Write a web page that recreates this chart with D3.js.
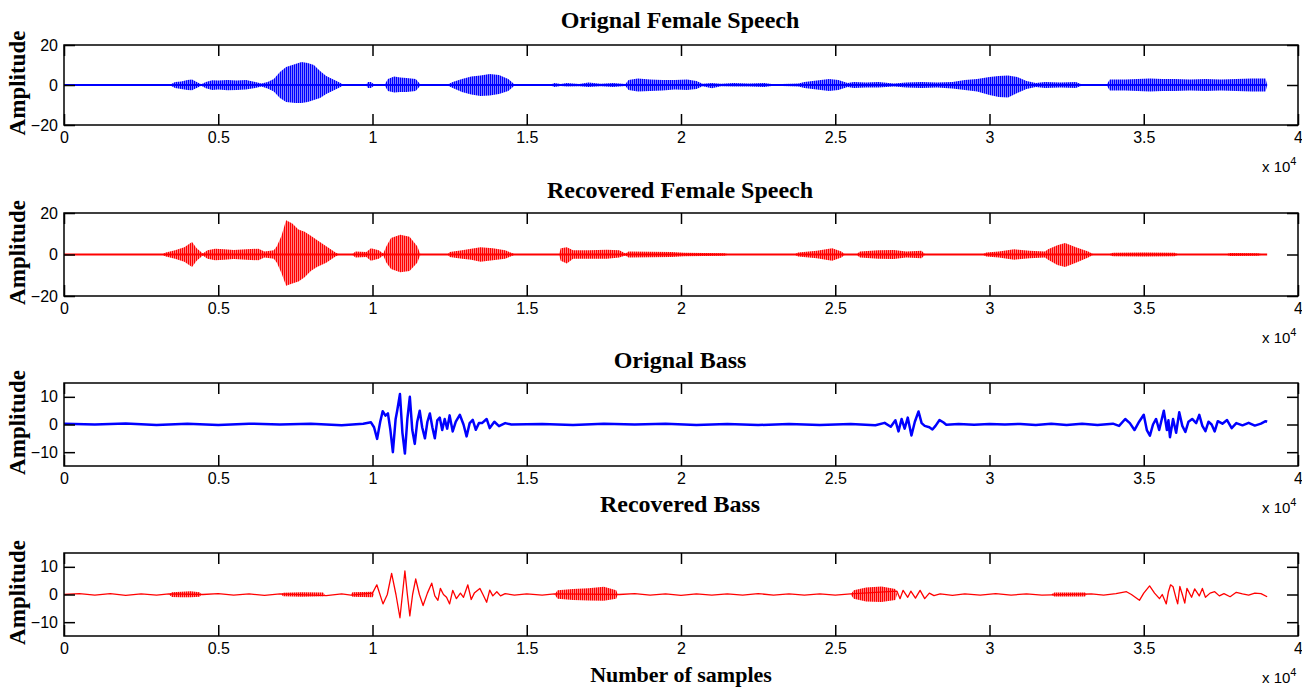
<!DOCTYPE html>
<html>
<head>
<meta charset="utf-8">
<script src="https://cdn.jsdelivr.net/npm/d3@7"></script>
<style>
  body { margin: 0; background: #fff; }
  .tick text { font-family: "Liberation Sans", Arial, sans-serif; font-size: 16px; fill: #000; }
  .ttl { font-family: "Liberation Serif", "Times New Roman", serif; font-weight: bold; font-size: 24px; fill: #000; }
  .lbl { font-family: "Liberation Serif", "Times New Roman", serif; font-weight: bold; font-size: 22px; fill: #000; }
  .mult { font-family: "Liberation Sans", Arial, sans-serif; font-size: 15px; fill: #000; }
</style>
</head>
<body>
<div id="chart"></div>
<script>
// tick labels (x axis is in units of 10^4 samples)
var xTickLabels = [0, 0.5, 1, 1.5, 2, 2.5, 3, 3.5, 4];
var speechTicks = [-20, 0, 20];
var bassTicks = [-10, 0, 10];
var panelTitles = ["Orignal Female Speech", "Recovered Female Speech", "Orignal Bass", "Recovered Bass"];
var xLabel = "Number of samples";
var yLabel = "Amplitude";

// speech envelopes: [sample, upper, lower]
var origSpeech = [
  [0, 0, 0], [3450, 0.3, -0.3], [3600, 1.5, -1.5], [3800, 1.8, -2], [4000, 2.5, -2.5], [4150, 2.8, -2.6],
  [4300, 1.5, -1.5], [4450, 0.4, -0.4], [4600, 1.5, -1.6], [4800, 2.4, -2.5], [5000, 2.2, -2.3],
  [5300, 2.5, -2.6], [5600, 2.2, -2.5], [5900, 2.5, -2.3], [6200, 1.5, -1.5], [6400, 0.8, -0.8],
  [6600, 1.5, -1.8], [6800, 3, -3.2], [7000, 6.5, -6.5], [7200, 9, -8.5], [7500, 10.5, -9],
  [7700, 11.5, -9], [7900, 11, -8.5], [8100, 10, -7.5], [8300, 7, -6.5], [8500, 4.5, -4.5],
  [8700, 3, -3], [8900, 1.5, -1.5], [9050, 0.3, -0.3], [9800, 0.3, -0.3], [9850, 1.5, -1.5],
  [9950, 1.5, -1.5], [10050, 0.4, -0.4], [10400, 0.4, -0.4], [10500, 3, -3], [10700, 4.3, -3.8],
  [10900, 3.8, -3.5], [11100, 3.5, -3.5], [11400, 3, -3], [11550, 0.4, -0.4], [12450, 0.4, -0.4],
  [12600, 1.5, -1.5], [12900, 3, -3.5], [13200, 4.2, -4.8], [13500, 4.8, -5.5], [13800, 5.5, -5.2],
  [14100, 5, -4.5], [14400, 3, -3], [14600, 0.4, -0.4], [15800, 0.4, -0.4], [15900, 1, -1],
  [16100, 0.5, -0.5], [16300, 1, -0.8], [16700, 0.5, -0.6], [17000, 1.2, -1], [17400, 0.6, -0.6],
  [17800, 1, -1], [18200, 0.5, -0.5], [18300, 2.5, -2.5], [18600, 3.3, -3.3], [19000, 2.8, -3],
  [19400, 2.5, -2.8], [19800, 2.5, -2.2], [20200, 2.8, -2.5], [20500, 2, -2], [20700, 0.6, -0.6],
  [21000, 1, -1.6], [21300, 0.6, -0.6], [21700, 1, -0.8], [22200, 0.8, -0.8], [22700, 1, -1],
  [23000, 0.4, -0.4], [23800, 0.8, -0.8], [24000, 1.5, -1.5], [24400, 2.2, -2.2], [24800, 3, -3],
  [25100, 2.5, -2.5], [25400, 1, -1], [25600, 1.5, -1.5], [26000, 1.2, -1.3], [26400, 1.5, -1.2],
  [26900, 0.8, -0.8], [27300, 1.2, -1.2], [27800, 1.5, -1.5], [28300, 1.3, -1.3], [28800, 1.5, -1.8],
  [29200, 2.5, -2.5], [29600, 3, -3.2], [30000, 4, -5], [30300, 4.5, -6], [30600, 4.7, -6.2],
  [30900, 4, -4], [31200, 2, -2], [31500, 1, -1], [31800, 1.5, -1.5], [32300, 1.2, -1.2],
  [32800, 1.5, -1.5], [33000, 0.3, -0.3], [33800, 0.3, -0.3], [33900, 2.8, -2.8], [34400, 2.8, -2.8],
  [34800, 3, -3], [35200, 3.2, -3.2], [35600, 3, -3], [36000, 3, -3], [36500, 2.8, -2.8],
  [37000, 3, -3], [37500, 2.8, -2.8], [38000, 3, -3], [38500, 3.2, -3.2], [38950, 3.2, -3.2], [39000, 0, 0]
];

var recSpeech = [
  [0, 0, 0], [3200, 0.3, -0.3], [3300, 1, -1], [3600, 2, -2], [3900, 3.5, -3.5], [4150, 6, -6],
  [4300, 3, -3], [4500, 0.5, -0.5], [4650, 2, -2], [4900, 2.8, -2.8], [5200, 2.5, -2.5],
  [5500, 2.2, -2.2], [5900, 2.5, -2.5], [6300, 2.8, -2.8], [6500, 1.5, -1.5], [6800, 2, -2],
  [6900, 4, -4], [7050, 9, -9], [7200, 16.5, -15], [7400, 15, -14], [7600, 12, -13], [7800, 11, -11],
  [8000, 9, -8], [8200, 7, -6], [8500, 4, -4], [8800, 1, -1], [8900, 0.3, -0.3], [9350, 0.3, -0.3],
  [9450, 1.5, -1.5], [9800, 1.2, -1.2], [9950, 3, -3], [10200, 2, -2], [10350, 0.5, -0.5],
  [10450, 4, -4], [10600, 8, -7], [10900, 9.5, -8.5], [11200, 8.5, -8], [11450, 4, -4],
  [11550, 0.3, -0.3], [12450, 0.3, -0.3], [12500, 1.2, -1.2], [12900, 2, -2], [13200, 2.8, -2.5],
  [13500, 3.5, -3.5], [13900, 3, -2.8], [14300, 2, -2], [14600, 0.3, -0.3], [16050, 0.3, -0.3],
  [16100, 3, -3], [16300, 3.5, -4.3], [16500, 2, -2], [17000, 2, -2], [17600, 2.3, -2],
  [18000, 2, -1.5], [18200, 0.5, -0.5], [18300, 1.5, -1.5], [19000, 1.3, -1.3], [19700, 1.2, -1.2],
  [20100, 0.8, -0.8], [21400, 0.6, -0.6], [21500, 0.2, -0.2], [23700, 0.2, -0.2], [23800, 1, -1],
  [24400, 1.8, -1.8], [24900, 3, -3], [25200, 1.5, -1.5], [25300, 0.3, -0.3], [25700, 0.3, -0.3],
  [25800, 1.5, -1.5], [26400, 2, -2], [26900, 2.2, -2.2], [27300, 1.5, -1.5], [27800, 1.8, -1.8],
  [27900, 0.2, -0.2], [29800, 0.2, -0.2], [29900, 1, -1], [30300, 1.5, -1.5], [30800, 2.5, -2.5],
  [31300, 1.8, -1.8], [31800, 1.5, -1.5], [31900, 2.5, -2.5], [32200, 4.5, -5], [32450, 5.5, -6],
  [32800, 3.5, -4], [33200, 1.5, -1.5], [33350, 0.2, -0.2], [33900, 0.2, -0.2], [34000, 0.8, -0.8],
  [35000, 1, -1], [36000, 0.8, -0.8], [36100, 0.2, -0.2], [37700, 0.2, -0.2], [37800, 0.7, -0.7],
  [38700, 0.6, -0.6], [38800, 0.2, -0.2], [39000, 0, 0]
];

// bass waveforms: [sample, amplitude]
var origBass = [
  [0, 0.3], [1000, 0], [2000, 0.4], [3000, -0.2], [4000, 0.3], [5000, -0.2], [6000, 0.3], [7000, 0],
  [8000, 0.3], [9000, -0.3], [9700, 0.3], [9950, 0.8], [10050, -1], [10150, -5.2], [10250, 1],
  [10330, 4.8], [10420, 3.2], [10500, 4], [10580, -2], [10660, -10], [10750, 2], [10800, 5],
  [10890, 11], [10970, -3], [11050, -10.5], [11130, 2], [11210, 10], [11290, -2], [11370, -7],
  [11450, 1], [11530, 5], [11610, -1], [11700, -5], [11780, 1], [11860, 4], [11940, -1], [12020, -5],
  [12100, 1.5], [12180, 2.5], [12260, -2], [12340, 2], [12420, -1.5], [12500, 3.3], [12600, -2.5],
  [12700, 1], [12830, 3.5], [12950, 0], [13050, -4.3], [13150, 0.5], [13250, 1.7], [13350, -1.9],
  [13450, 0.5], [13550, 0.5], [13700, 2], [13800, -1.3], [13950, 1], [14100, -0.6], [14300, 0.5],
  [14500, 0], [15500, 0.2], [16500, -0.2], [17500, 0.3], [18500, 0], [19500, 0.3], [20500, -0.2],
  [21500, 0.2], [22500, -0.2], [23500, 0.2], [24500, -0.2], [25500, 0.2], [26300, -0.3], [26600, 0.6],
  [26800, -0.8], [26950, 1.5], [27050, -2.5], [27150, 2], [27250, -1.5], [27350, 2.5], [27470, -4],
  [27580, 1], [27700, 4.7], [27800, 0.5], [27900, -0.5], [28050, -1], [28150, -1.8], [28250, -0.5],
  [28380, 1.6], [28500, 0.8], [28600, -0.1], [29000, 0.2], [29500, -0.1], [30000, 0.2], [30500, 0],
  [31000, 0.2], [31500, -0.2], [32000, 0.3], [32500, -0.2], [33000, 0.3], [33500, -0.2], [34000, 0.3],
  [34200, -0.5], [34400, 2], [34550, 0.5], [34700, -2], [34850, 1], [35000, 3.5], [35100, -2],
  [35200, -4], [35300, 0], [35400, 2], [35500, -2], [35650, 5], [35750, -2], [35800, 1.5],
  [35850, -4.6], [35950, 2], [36050, -3], [36150, 4.4], [36250, -0.5], [36350, -2.7], [36450, 1],
  [36570, 2], [36700, 0.5], [36800, 3.5], [36900, -0.5], [37000, -2.4], [37100, 1], [37200, 0],
  [37300, -2.5], [37400, 1.2], [37550, 0.3], [37700, 1.6], [37850, -1.3], [38000, 0.5], [38200, -0.3],
  [38400, 0.6], [38600, -0.4], [38800, 0.3], [38950, 1.2], [39000, 1]
];

var recBass = [
  [0, 0], [500, 0.3], [1000, -0.2], [1500, 0.3], [2000, -0.3], [2500, 0.2], [3000, -0.2], [3400, 0.2],
  [4500, 0], [5000, 0.3], [5500, -0.2], [6000, 0.2], [6500, -0.3], [7000, 0.2], [8500, -0.4],
  [9000, 0.2], [9300, -0.2], [10000, 0.5], [10140, 3.5], [10340, -3.4], [10480, 0], [10620, 7.6],
  [10760, 0], [10890, -8.4], [10970, 0], [11050, 8.5], [11130, 0], [11210, -7.7], [11300, 0],
  [11400, 5.6], [11520, 0], [11640, -4], [11780, 0.5], [11920, 4.1], [12020, -0.5], [12120, -2.1],
  [12200, 2.2], [12300, 0], [12400, -1], [12500, -3.4], [12600, 1.5], [12720, -1.5], [12850, 0.5],
  [12950, -1], [13090, 3.5], [13200, -1.8], [13300, 0.5], [13480, 2.2], [13580, 0], [13700, -2.8],
  [13800, 1.6], [13900, -0.5], [14030, 1], [14150, -0.5], [14300, 0.3], [14600, -0.2], [15000, 0.2],
  [15500, -0.2], [15900, 0.2], [18000, 0], [18500, 0.3], [19000, -0.2], [19500, 0.2], [20000, -0.3],
  [20500, 0.2], [21000, -0.2], [21500, 0.2], [22000, -0.2], [22500, 0.3], [23000, -0.2], [23500, 0.2],
  [24000, -0.2], [24500, 0.2], [25000, -0.2], [25500, 0.2], [27000, 1.2], [27100, -1.5], [27200, 1.5],
  [27350, -1], [27450, 1.2], [27600, -1.3], [27750, 1.5], [27900, -1.5], [28050, 0.5], [28200, -0.4],
  [28400, 0.2], [28800, -0.3], [29200, 0.2], [29700, -0.2], [30200, 0.3], [30700, -0.2], [31200, 0.2],
  [31700, -0.2], [33300, 0.2], [33700, -0.2], [34100, 0.3], [34440, 1], [34600, 0], [34860, -2.1],
  [35000, 0.5], [35190, 3.1], [35350, 0.5], [35510, -1.5], [35600, 0], [35730, -3.4], [35800, 1],
  [35870, 3.5], [35950, 2.8], [36050, -1.5], [36100, -3.4], [36170, 2.9], [36250, 0], [36330, -3.1],
  [36400, 2.2], [36550, -1], [36650, 2], [36800, -0.5], [36900, 2.2], [37000, -1], [37150, 0.5],
  [37300, 1], [37450, -0.5], [37600, 0.3], [37800, -0.8], [38000, 0.8], [38200, 0.2], [38400, -0.2],
  [38600, 0.5], [38800, 0.3], [39000, -0.8]
];

// noisy stretches of the recovered bass: [sample, upper, lower]
var recBassNoise = [
  [0, 0, 0], [3400, 0, 0], [3500, 0.8, -0.9], [3800, 1, -1], [4100, 1.2, -1], [4400, 0.8, -0.8],
  [4450, 0, 0], [7050, 0, 0], [7100, 0.6, -0.6], [7700, 0.8, -0.8], [8400, 0.7, -0.6], [8450, 0, 0],
  [9300, 0, 0], [9350, 0.8, -0.8], [10000, 1, -1], [10050, 0, 0], [15900, 0, 0], [16000, 1.5, -1.5],
  [16500, 2, -2], [17000, 2.3, -2.2], [17500, 2.8, -2.3], [17900, 1.5, -1.5], [17950, 0, 0],
  [25500, 0, 0], [25600, 1.5, -1.5], [26000, 2.5, -2.5], [26500, 2.9, -2.7], [26950, 2, -2],
  [27000, 0, 0], [32000, 0, 0], [32100, 0.7, -0.7], [33100, 0.7, -0.7], [33150, 0, 0], [39000, 0, 0]
];

var svgWidth = 1302;
var svgHeight = 687;

var svg = d3.select("#chart")
  .append("svg")
  .attr("width", svgWidth)
  .attr("height", svgHeight);

// striped fill so bursts look like dense oscillation
var defs = svg.append("defs");
[["stripeBlue", "#0000ff"], ["stripeRed", "#ff0000"]].forEach(function(p) {
  var pat = defs.append("pattern")
    .attr("id", p[0])
    .attr("patternUnits", "userSpaceOnUse")
    .attr("width", 2)
    .attr("height", 10);
  pat.append("rect").attr("width", 1.5).attr("height", 10).attr("fill", p[1]);
});

var xScale = d3.scaleLinear().domain([0, 40000]).range([64, 1298]);

var panels = [
  { top: 45, bottom: 125, dom: [-20, 20], ticks: speechTicks, titleY: 28, color: "#0000ff", fill: "url(#stripeBlue)", env: origSpeech },
  { top: 213, bottom: 296, dom: [-20, 20], ticks: speechTicks, titleY: 198, color: "#ff0000", fill: "url(#stripeRed)", env: recSpeech },
  { top: 383, bottom: 466, dom: [-15, 15], ticks: bassTicks, titleY: 368, color: "#0000ff", fill: "url(#stripeBlue)", wave: origBass, width: 2.5 },
  { top: 553, bottom: 636, dom: [-15, 15], ticks: bassTicks, titleY: 512, color: "#ff0000", fill: "url(#stripeRed)", wave: recBass, env: recBassNoise, width: 1.3 }
];

panels.forEach(function(p, i) {
  var yScale = d3.scaleLinear().domain(p.dom).range([p.bottom, p.top]);
  var g = svg.append("g");

  // envelope of the oscillation
  if (p.env) {
    g.append("path")
      .datum(p.env)
      .attr("fill", p.fill)
      .attr("d", d3.area()
        .x(d => xScale(d[0]))
        .y0(d => yScale(d[2]))
        .y1(d => yScale(d[1])));
  }
  // speech: baseline trace of the signal
  if (!p.wave) {
    g.append("path")
      .datum(p.env)
      .attr("fill", "none")
      .attr("stroke", p.color)
      .attr("stroke-width", 2)
      .attr("d", d3.line().x(d => xScale(d[0])).y(d => yScale(0)));
  }
  // bass: traced waveform
  if (p.wave) {
    g.append("path")
      .datum(p.wave)
      .attr("fill", "none")
      .attr("stroke", p.color)
      .attr("stroke-width", p.width)
      .attr("stroke-linejoin", "round")
      .attr("d", d3.line().x(d => xScale(d[0])).y(d => yScale(d[1])));
  }

  // axes with inward ticks on all four sides
  var xVals = xTickLabels.map(d => d * 10000);
  var bottomAxis = d3.axisBottom(xScale).tickValues(xVals).tickFormat(d => d / 10000)
    .tickSizeInner(-11).tickSizeOuter(0).tickPadding(7);
  var topAxis = d3.axisTop(xScale).tickValues(xVals).tickFormat("")
    .tickSizeInner(-11).tickSizeOuter(0);
  var leftAxis = d3.axisLeft(yScale).tickValues(p.ticks)
    .tickSizeInner(-11).tickSizeOuter(0).tickPadding(6);
  var rightAxis = d3.axisRight(yScale).tickValues(p.ticks).tickFormat("")
    .tickSizeInner(-11).tickSizeOuter(0);

  g.append("g").attr("transform", `translate(0, ${p.bottom})`).call(bottomAxis);
  g.append("g").attr("transform", `translate(0, ${p.top})`).call(topAxis);
  g.append("g").attr("transform", "translate(64, 0)").call(leftAxis);
  g.append("g").attr("transform", "translate(1298, 0)").call(rightAxis);
  g.selectAll(".domain").remove();
  g.selectAll(".tick line").attr("stroke", "#000").attr("stroke-width", 1.5);

  g.append("rect")
    .attr("x", 64)
    .attr("y", p.top)
    .attr("width", 1298 - 64)
    .attr("height", p.bottom - p.top)
    .attr("fill", "none")
    .attr("stroke", "#000")
    .attr("stroke-width", 1.5);

  // title
  svg.append("text")
    .attr("class", "ttl")
    .attr("x", 680)
    .attr("y", p.titleY)
    .attr("text-anchor", "middle")
    .text(panelTitles[i]);

  // y label
  svg.append("text")
    .attr("class", "lbl")
    .attr("transform", `translate(25, ${(p.top + p.bottom) / 2 - 2}) rotate(-90)`)
    .attr("text-anchor", "middle")
    .style("font-size", "23px")
    .text(yLabel);

  // x 10^4 multiplier
  var mult = svg.append("text")
    .attr("class", "mult")
    .attr("x", 1262)
    .attr("y", p.bottom + 47);
  mult.append("tspan").text("x 10");
  mult.append("tspan").attr("dy", -7).style("font-size", "11px").text("4");
});

svg.append("text")
  .attr("class", "lbl")
  .attr("x", 681)
  .attr("y", 682)
  .attr("text-anchor", "middle")
  .text(xLabel);
</script>
</body>
</html>
